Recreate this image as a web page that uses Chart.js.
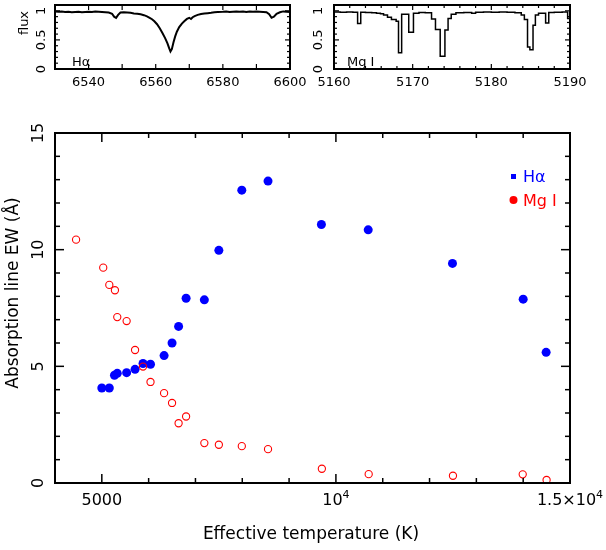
<!DOCTYPE html>
<html><head><meta charset="utf-8">
<script src="https://cdn.jsdelivr.net/npm/chart.js@4/dist/chart.umd.min.js"></script>
<style>
html,body{margin:0;padding:0;background:#fff;}
#wrap{position:relative;width:606px;height:550px;background:#fff;}
#wrap canvas{position:absolute;left:0;top:0;}
</style></head><body>
<div id="wrap">
<canvas id="main" width="606" height="550"></canvas>
<canvas id="insetHa" width="606" height="550"></canvas>
<canvas id="insetMg" width="606" height="550"></canvas>
</div>
<script>
// ---------- Main panel data ----------
const tempHa = [5000, 5160, 5270, 5330, 5530, 5710, 5880, 6040, 6330, 6500, 6640, 6800, 7190, 7500, 7990, 8550, 9690, 10690, 12490, 14000, 14490];
const ewHa   = [4.07, 4.07, 4.62, 4.70, 4.73, 4.87, 5.12, 5.09, 5.46, 6.00, 6.71, 7.92, 7.85, 9.97, 12.55, 12.94, 11.08, 10.85, 9.41, 7.88, 5.60];
const tempMg = [4450, 5030, 5160, 5280, 5330, 5530, 5710, 5880, 6040, 6330, 6500, 6640, 6800, 7190, 7500, 7990, 8550, 9700, 10700, 12500, 13990, 14500];
const ewMg   = [10.43, 9.23, 8.49, 8.26, 7.11, 6.94, 5.70, 4.99, 4.33, 3.85, 3.43, 2.56, 2.85, 1.71, 1.64, 1.58, 1.45, 0.61, 0.38, 0.31, 0.37, 0.13];
const mainXTicks = [5000, 10000, 15000];
const mainXTickLabels = ['5000', '10^4', '1.5×10^4'];
const mainYTicks = [0, 5, 10, 15];
const mainYTickLabels = ['0', '5', '10', '15'];
const legendLabels = ['Hα', 'Mg I'];

// ---------- Inset spectra ----------
const waveHa = [6530,6531,6532,6533,6534,6535,6536,6537,6538,6539,6540,6541,6542,6543,6544,6545,6546,6547,6547.6,6548.2,6548.8,6549.5,6550.5,6551.5,6552.5,6553.5,6554.5,6555.5,6556.5,6557.4,6558.2,6558.9,6559.6,6560.4,6561.2,6562.0,6562.8,6563.5,6564.0,6564.4,6564.8,6565.3,6565.8,6566.3,6567.0,6567.8,6568.5,6569.3,6570.0,6570.5,6571.0,6571.6,6572.5,6573.5,6574.5,6575.5,6576.5,6577.5,6578.5,6580,6581,6582,6583,6584,6585,6586,6587,6588,6589,6590,6591,6592,6593,6593.8,6594.5,6595.2,6596.0,6597,6598,6599,6600];
const fluxHa = [0.99,0.985,0.99,0.98,0.985,0.975,0.98,0.985,0.975,0.98,0.985,0.98,0.99,0.985,0.98,0.975,0.97,0.95,0.90,0.88,0.93,0.97,0.975,0.97,0.965,0.955,0.95,0.94,0.925,0.905,0.88,0.855,0.82,0.77,0.70,0.62,0.53,0.44,0.36,0.30,0.34,0.46,0.56,0.64,0.72,0.78,0.82,0.86,0.88,0.86,0.89,0.91,0.93,0.945,0.955,0.96,0.965,0.975,0.98,0.985,0.99,0.98,0.985,0.99,0.985,0.99,0.98,0.99,0.985,0.99,0.985,0.98,0.975,0.94,0.88,0.90,0.95,0.975,0.99,0.985,0.98];
const waveMg = [5160.0,5160.8,5161.6,5162.4,5163.0,5163.4,5164.0,5164.8,5165.4,5165.9,5166.3,5166.8,5167.3,5167.9,5168.2,5168.6,5169.5,5170.1,5170.8,5171.6,5172.4,5172.9,5173.5,5174.1,5174.5,5174.9,5175.5,5176.5,5177.5,5178.0,5179,5180,5181,5182,5183,5183.8,5184.2,5184.6,5184.9,5185.3,5185.6,5186.0,5186.9,5187.3,5188,5189,5189.7,5190];
const fluxMg = [0.98,0.975,0.98,0.975,0.78,0.975,0.97,0.965,0.96,0.95,0.93,0.89,0.85,0.82,0.28,0.94,0.63,0.96,0.97,0.965,0.86,0.68,0.22,0.67,0.87,0.94,0.965,0.97,0.96,0.975,0.98,0.975,0.98,0.975,0.965,0.93,0.85,0.38,0.33,0.75,0.93,0.96,0.79,0.97,0.975,0.98,0.87,0.87];
const haXTicks = [6540, 6560, 6580, 6600];
const mgXTicks = [5160, 5170, 5180, 5190];
const insetYTicks = [0, 0.5, 1];
const insetYTickLabels = ['0', '0.5', '1'];

const FONT = '"DejaVu Sans", sans-serif';

function line(ctx, x1, y1, x2, y2) { ctx.beginPath(); ctx.moveTo(x1, y1); ctx.lineTo(x2, y2); ctx.stroke(); }
function rotText(ctx, txt, x, y, font, color) {
  ctx.save(); ctx.translate(x, y); ctx.rotate(-Math.PI / 2);
  ctx.font = font; ctx.fillStyle = color; ctx.textAlign = 'center'; ctx.textBaseline = 'alphabetic';
  ctx.fillText(txt, 0, 0); ctx.restore();
}
function expText(ctx, label, cx, baseY, size) {
  // label possibly of form "base^exp"
  const parts = label.split('^');
  const base = parts[0], ex = parts[1] || '';
  ctx.textBaseline = 'alphabetic'; ctx.textAlign = 'left'; ctx.fillStyle = '#000';
  ctx.font = size + 'px ' + FONT;
  const wb = ctx.measureText(base).width;
  const es = Math.round(size * 0.68);
  ctx.font = es + 'px ' + FONT;
  const we = ex ? ctx.measureText(ex).width : 0;
  const x0 = cx - (wb + we) / 2;
  ctx.font = size + 'px ' + FONT;
  ctx.fillText(base, x0, baseY);
  if (ex) { ctx.font = es + 'px ' + FONT; ctx.fillText(ex, x0 + wb, baseY - size * 0.45); }
}
function frameTicks(chart, cfg) {
  const ctx = chart.ctx, a = chart.chartArea, sx = chart.scales.x, sy = chart.scales.y;
  ctx.save();
  ctx.strokeStyle = '#000'; ctx.lineWidth = cfg.tickWidth;
  const eps = 1e-9;
  for (let v = cfg.xMin; v <= cfg.xMax + eps; v += cfg.xMinor) {
    const major = Math.abs(v / cfg.xMajor - Math.round(v / cfg.xMajor)) < 1e-6;
    const len = major ? cfg.xMajLen : cfg.xMinLen;
    const p = sx.getPixelForValue(v);
    line(ctx, p, a.bottom, p, a.bottom - len); line(ctx, p, a.top, p, a.top + len);
  }
  for (let v = cfg.yMin; v <= cfg.yMax + eps; v += cfg.yMinor) {
    const major = Math.abs(v / cfg.yMajor - Math.round(v / cfg.yMajor)) < 1e-6;
    const len = major ? cfg.yMajLen : cfg.yMinLen;
    const p = sy.getPixelForValue(v);
    line(ctx, a.left, p, a.left + len, p); line(ctx, a.right, p, a.right - len, p);
  }
  ctx.lineWidth = cfg.boxWidth;
  ctx.strokeRect(a.left, a.top, a.right - a.left, a.bottom - a.top);
  ctx.restore();
}

// ---------- Main chart ----------
const mainPlugin = {
  id: 'mainFrame',
  afterDraw(chart) {
    const ctx = chart.ctx, a = chart.chartArea, sx = chart.scales.x, sy = chart.scales.y;
    frameTicks(chart, {xMin: 4000, xMax: 15000, xMinor: 1000, xMajor: 5000, xMajLen: 9, xMinLen: 5,
      yMin: 0, yMax: 15, yMinor: 1, yMajor: 5, yMajLen: 9, yMinLen: 5, tickWidth: 1.5, boxWidth: 2});
    ctx.save();
    mainXTicks.forEach((v, i) => expText(ctx, mainXTickLabels[i], sx.getPixelForValue(v), 505, 16));
    mainYTicks.forEach((v, i) => rotText(ctx, mainYTickLabels[i], 43, sy.getPixelForValue(v), '16px ' + FONT, '#000'));
    ctx.font = '17px ' + FONT; ctx.fillStyle = '#000'; ctx.textAlign = 'center'; ctx.textBaseline = 'alphabetic';
    ctx.fillText('Effective temperature (K)', 311, 539);
    rotText(ctx, 'Absorption line EW (Å)', 18, 293, '17px ' + FONT, '#000');
    // legend
    ctx.fillStyle = '#0000ff'; ctx.fillRect(511, 174, 5, 5);
    ctx.font = '16px ' + FONT; ctx.textAlign = 'left';
    ctx.fillText(legendLabels[0], 523, 182);
    ctx.fillStyle = '#ff0000';
    ctx.beginPath(); ctx.arc(513.5, 200, 4, 0, Math.PI * 2); ctx.fill();
    ctx.fillText(legendLabels[1], 523, 206);
    ctx.restore();
  }
};

new Chart(document.getElementById('main'), {
  type: 'scatter',
  data: { datasets: [
    { label: legendLabels[0], data: tempHa.map((t, i) => ({x: t, y: ewHa[i]})), order: 1,
      pointRadius: 4.5, pointBackgroundColor: '#0000ff', pointBorderColor: '#0000ff', pointBorderWidth: 0, showLine: false },
    { label: legendLabels[1], data: tempMg.map((t, i) => ({x: t, y: ewMg[i]})), order: 0,
      pointRadius: 3.6, pointBackgroundColor: 'rgba(0,0,0,0)', pointBorderColor: '#ff0000', pointBorderWidth: 1.1, showLine: false }
  ]},
  options: {
    responsive: false, animation: false, events: [],
    layout: { padding: { left: 55, right: 36, top: 133, bottom: 67 } },
    plugins: { legend: { display: false }, tooltip: { enabled: false } },
    scales: {
      x: { type: 'linear', min: 4000, max: 15000, display: false },
      y: { type: 'linear', min: 0, max: 15, display: false }
    }
  },
  plugins: [mainPlugin]
});

// ---------- Insets ----------
function insetPlugin(id, xTicks, xMin, xMax, xMinor, xMajor, xMinLen, yLabelX, label, labelX, showFlux) {
  return {
    id: id,
    afterDraw(chart) {
      const ctx = chart.ctx, sx = chart.scales.x, sy = chart.scales.y;
      frameTicks(chart, {xMin: xMin, xMax: xMax, xMinor: xMinor, xMajor: xMajor, xMajLen: 5, xMinLen: xMinLen,
        yMin: 0, yMax: 1.1, yMinor: 0.1, yMajor: 0.5, yMajLen: 5, yMinLen: 3, tickWidth: 1.2, boxWidth: 2});
      ctx.save();
      xTicks.forEach(v => expText(ctx, String(v), sx.getPixelForValue(v), 86, 13));
      insetYTicks.forEach((v, i) => rotText(ctx, insetYTickLabels[i], yLabelX, sy.getPixelForValue(v), '13px ' + FONT, '#000'));
      if (showFlux) rotText(ctx, 'flux', 28, 23, '13px ' + FONT, '#000');
      ctx.font = '13px ' + FONT; ctx.fillStyle = '#000'; ctx.textAlign = 'left'; ctx.textBaseline = 'alphabetic';
      ctx.fillText(label, labelX, 66);
      ctx.restore();
    }
  };
}

new Chart(document.getElementById('insetHa'), {
  type: 'line',
  data: { datasets: [{ data: waveHa.map((w, i) => ({x: w, y: fluxHa[i]})), borderColor: '#000', borderWidth: 2,
    pointRadius: 0, fill: false, tension: 0 }] },
  options: {
    responsive: false, animation: false, events: [],
    layout: { padding: { left: 55, right: 316, top: 5, bottom: 481 } },
    plugins: { legend: { display: false }, tooltip: { enabled: false } },
    scales: {
      x: { type: 'linear', min: 6530, max: 6600, display: false },
      y: { type: 'linear', min: 0, max: 1.1, display: false }
    }
  },
  plugins: [insetPlugin('haFrame', haXTicks, 6530, 6600, 10, 10, 5, 45, 'Hα', 72, true)]
});

new Chart(document.getElementById('insetMg'), {
  type: 'line',
  data: { datasets: [{ data: waveMg.map((w, i) => ({x: w, y: fluxMg[i]})), borderColor: '#000', borderWidth: 1.5,
    pointRadius: 0, fill: false, stepped: 'before' }] },
  options: {
    responsive: false, animation: false, events: [],
    layout: { padding: { left: 334, right: 36, top: 5, bottom: 481 } },
    plugins: { legend: { display: false }, tooltip: { enabled: false } },
    scales: {
      x: { type: 'linear', min: 5160, max: 5190, display: false },
      y: { type: 'linear', min: 0, max: 1.1, display: false }
    }
  },
  plugins: [insetPlugin('mgFrame', mgXTicks, 5160, 5190, 2, 10, 3, 322, 'Mg I', 347, false)]
});
</script>
</body></html>
